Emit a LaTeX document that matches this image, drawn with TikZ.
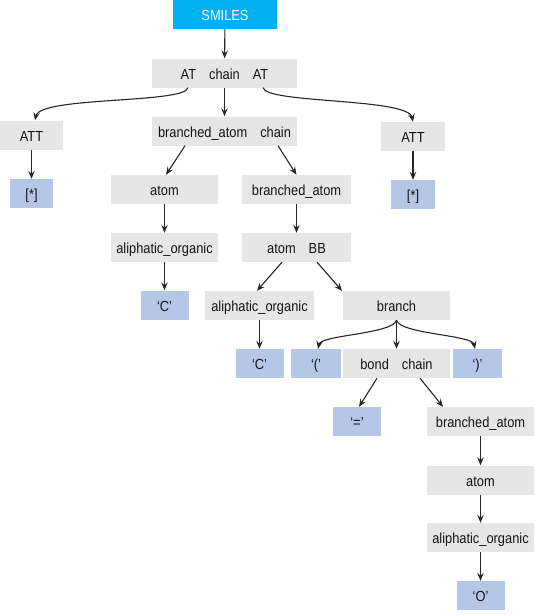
\documentclass[tikz,border=0pt]{standalone}
\usepackage{fontspec}
\setmainfont{Liberation Sans}[FakeStretch=0.88]
\usetikzlibrary{arrows.meta,calc}
\definecolor{boxgray}{HTML}{E6E6E6}
\definecolor{leafblue}{HTML}{B4C7E7}
\definecolor{rootblue}{HTML}{00B0F0}
\definecolor{inkc}{HTML}{141414}
\definecolor{linec}{HTML}{262626}
\newcommand{\wg}{\hspace{13pt}}
\begin{document}
\begin{tikzpicture}[x=1pt,y=-1pt,
 nt/.style={fill=boxgray, inner sep=0pt, minimum height=29pt, text height=12.6pt, text depth=0pt, font=\fontsize{14.6pt}{18pt}\selectfont, text=inkc},
 leaf/.style={nt, fill=leafblue},
 root/.style={nt, fill=rootblue, text=white},
 arr/.style={-{Stealth[length=8pt,width=6.5pt,inset=3pt]}, draw=linec, line width=1.1pt}
]
\useasboundingbox (0,0) rectangle (540,616);

\node[root, minimum width=104pt] (smiles) at (225,14.5) {SMILES};
\node[nt, minimum width=145pt] (top) at (224.5,73) {AT\wg chain\wg AT};
\node[nt, minimum width=63pt] (attL) at (31.5,135) {ATT};
\node[nt, minimum width=145pt] (bac) at (224.5,131) {branched\_atom\wg chain};
\node[nt, minimum width=64pt] (attR) at (413,136.5) {ATT};
\node[leaf, minimum width=43pt] (starL) at (31.5,193.5) {[*]};
\node[leaf, minimum width=44pt] (starR) at (413,194.5) {[*]};
\node[nt, minimum width=107pt] (atomA) at (164.5,189.5) {atom};
\node[nt, minimum width=107pt] (aliA) at (164.5,247.5) {aliphatic\_organic};
\node[leaf, minimum width=48pt] (cA) at (164.5,305) {‘C’};
\node[nt, minimum width=109pt] (baB) at (296.5,189.5) {branched\_atom};
\node[nt, minimum width=109pt] (atomBB) at (296.5,247.5) {atom\wg BB};
\node[nt, minimum width=109pt] (aliB) at (259.5,305.5) {aliphatic\_organic};
\node[nt, minimum width=107pt] (branch) at (396.5,305.5) {branch};
\node[leaf, minimum width=48pt] (cB) at (259.5,363.5) {‘C’};
\node[leaf, minimum width=50pt] (lp) at (316,363.5) {‘(’};
\node[nt, minimum width=107pt] (bond) at (396.5,363.5) {bond\wg chain};
\node[leaf, minimum width=49pt] (rp) at (477.5,363.5) {‘)’};
\node[leaf, minimum width=48pt] (eq) at (357,421.5) {‘=’};
\node[nt, minimum width=107pt] (baC) at (480.5,421.5) {branched\_atom};
\node[nt, minimum width=107pt] (atomC) at (480.5,480) {atom};
\node[nt, minimum width=107pt] (aliC) at (480.5,537.5) {aliphatic\_organic};
\node[leaf, minimum width=48pt] (oC) at (480.5,595.5) {‘O’};

\draw[arr] (smiles) -- (top);
\draw[arr] ($(top.south)+(-36.5,0)$) .. controls +(-3,16) and +(5,-24) .. ($(attL.north)+(3.5,0)$);
\draw[arr] ($(top.south)+(38.5,0)$) .. controls +(3,16) and +(-5,-24) .. (attR.north);
\draw[arr] (top) -- (bac);
\draw[arr] (attL) -- (starL);
\draw[arr] (attR) -- (starR);
\draw[arr] ($(bac.south)+(-39.5,0)$) -- ($(atomA.north)+(1.5,0)$);
\draw[arr] ($(bac.south)+(53.5,0)$) -- (baB.north);
\draw[arr] (atomA) -- (aliA);
\draw[arr] (aliA) -- (cA);
\draw[arr] (baB) -- (atomBB);
\draw[arr] ($(atomBB.south)+(-14.5,0)$) -- ($(aliB.north)+(-2.5,0)$);
\draw[arr] ($(atomBB.south)+(20.5,0)$) -- ($(branch.north)+(-54.5,0)$);
\draw[arr] (aliB) -- (cB);
\draw[arr] (branch.south) .. controls +(-4,14) and +(3,-14) .. ($(lp.north)+(2,0)$);
\draw[arr] (branch) -- (bond);
\draw[arr] (branch.south) .. controls +(4,14) and +(-3,-14) .. ($(rp.north)+(-2.5,0)$);
\draw[arr] ($(bond.south)+(-19.5,0)$) -- ($(eq.north)+(2,0)$);
\draw[arr] ($(bond.south)+(23.5,0)$) -- ($(baC.north)+(-37.5,0)$);
\draw[arr] (baC) -- (atomC);
\draw[arr] (atomC) -- (aliC);
\draw[arr] (aliC) -- (oC);
\end{tikzpicture}
\end{document}
